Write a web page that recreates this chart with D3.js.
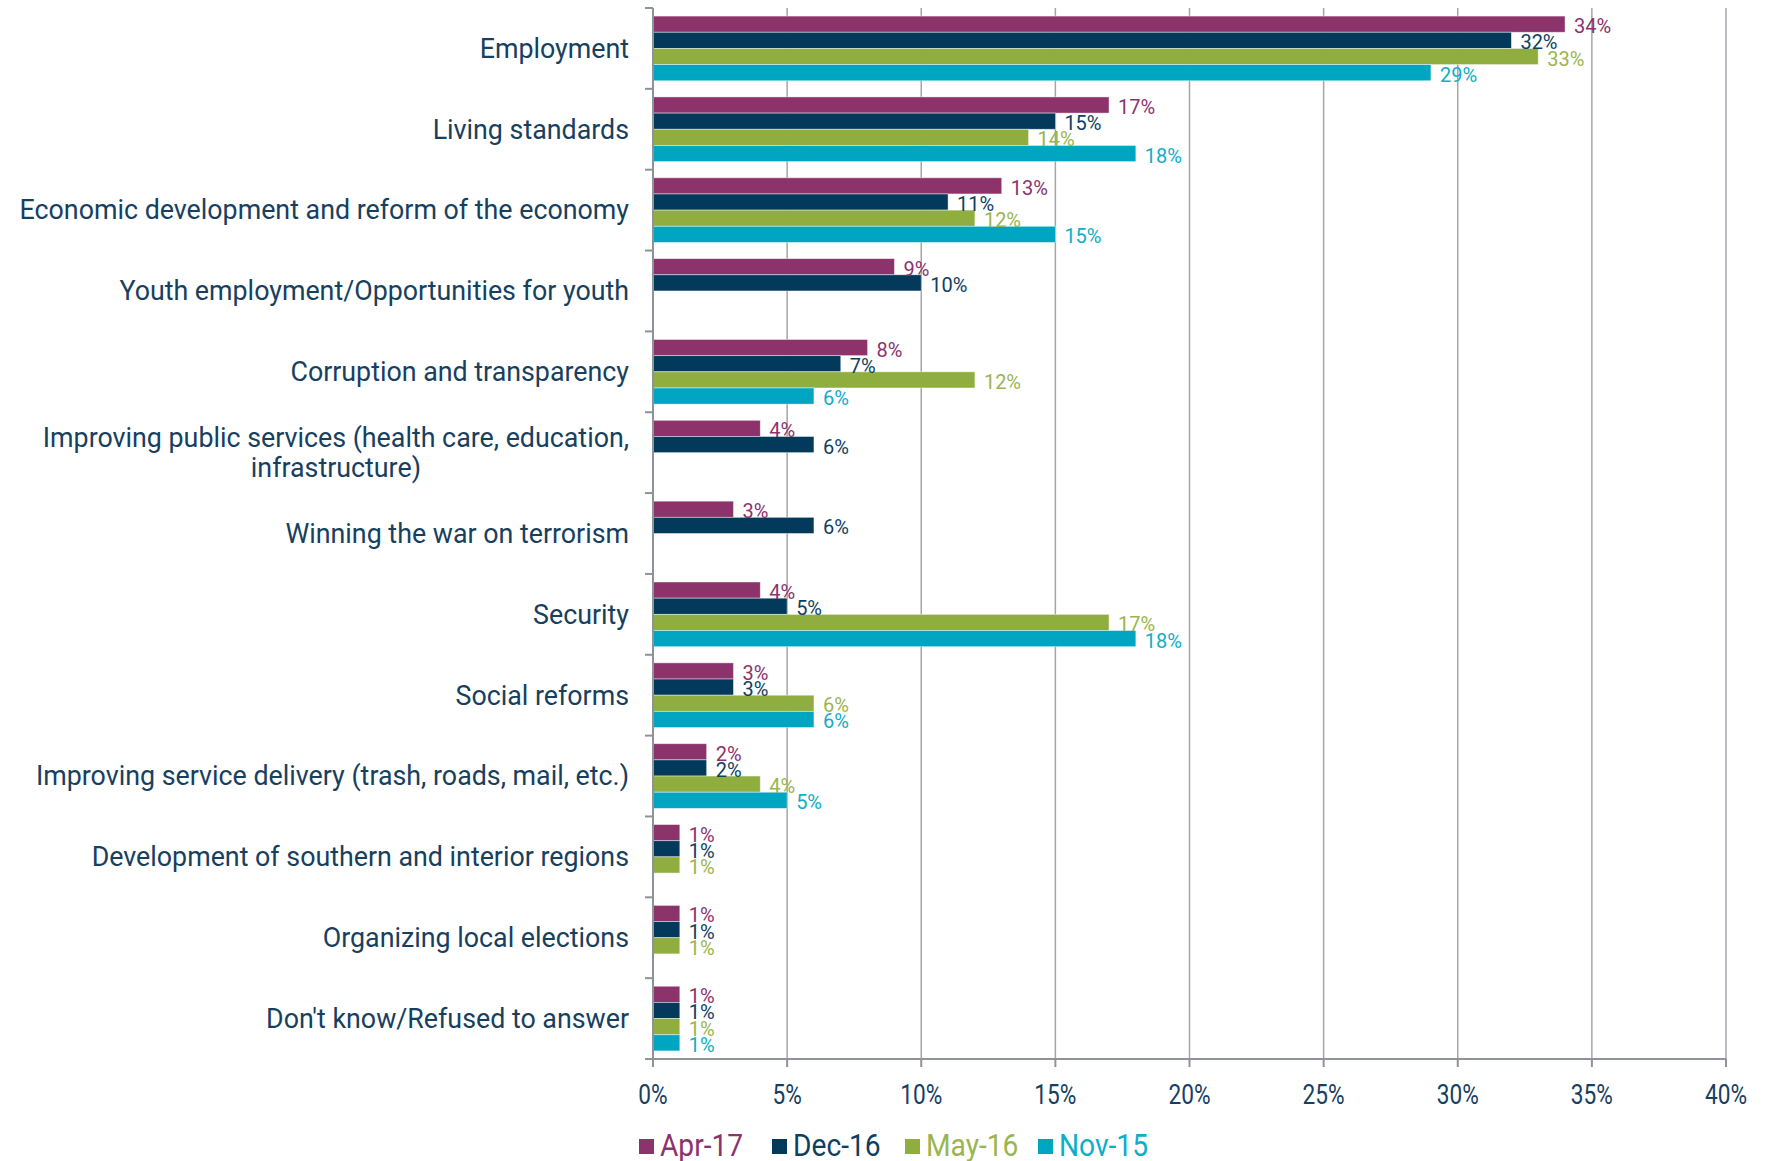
<!DOCTYPE html>
<html>
<head>
<meta charset="utf-8">
<script src="https://cdn.jsdelivr.net/npm/d3@7"></script>
<style>
  html, body { margin: 0; padding: 0; background: #fff; }
  svg { display: block; }
</style>
</head>
<body>
<svg id="chart" width="1768" height="1161"></svg>
<script>
// ---- data ----
const categories = [
  "Employment",
  "Living standards",
  "Economic development and reform of the economy",
  "Youth employment/Opportunities for youth",
  "Corruption and transparency",
  "Improving public services (health care, education,|infrastructure)",
  "Winning the war on terrorism",
  "Security",
  "Social reforms",
  "Improving service delivery (trash, roads, mail, etc.)",
  "Development of southern and interior regions",
  "Organizing local elections",
  "Don't know/Refused to answer"
];
const seriesNames = ["Apr-17", "Dec-16", "May-16", "Nov-15"];
const apr17 = [34, 17, 13, 9, 8, 4, 3, 4, 3, 2, 1, 1, 1];
const dec16 = [32, 15, 11, 10, 7, 6, 6, 5, 3, 2, 1, 1, 1];
const may16 = [33, 14, 12, null, 12, null, null, 17, 6, 4, 1, 1, 1];
const nov15 = [29, 18, 15, null, 6, null, null, 18, 6, 5, null, null, 1];
const xTicks = [0, 5, 10, 15, 20, 25, 30, 35, 40];

(function () {
const seriesValues = [apr17, dec16, may16, nov15];
const barColors = ["#8C336C", "#033A5B", "#90AE3F", "#00A6C1"];
const labelColors = ["#8C336C", "#0E3F5F", "#9BB54E", "#0EAEC8"];
const textColor = "#17405F";
const narrow = 0.84;
const legendNarrow = 0.88;

const svg = d3.select("#chart");
const pLeft = 653, pRight = 1726, pTop = 8, pBottom = 1059;

const x = d3.scaleLinear().domain([0, 40]).range([pLeft, pRight]);
const y = d3.scaleBand().domain(categories).range([pTop, pBottom]).padding(0);
const ySub = d3.scaleBand().domain(seriesNames).range([0, y.bandwidth()])
  .paddingInner(0).paddingOuter(0.5);

// gridlines
svg.append("g").selectAll("line").data(xTicks.slice(1)).join("line")
  .attr("x1", d => x(d)).attr("x2", d => x(d))
  .attr("y1", pTop).attr("y2", pBottom)
  .attr("stroke", "#A2A6AB").attr("stroke-width", 1.5);

// bars
const rows = [];
categories.forEach((c, i) => {
  seriesNames.forEach((s, j) => {
    const v = seriesValues[j][i];
    if (v !== null && v !== undefined) rows.push({ c, s, j, v });
  });
});

svg.append("g").selectAll("rect").data(rows).join("rect")
  .attr("x", x(0))
  .attr("y", d => y(d.c) + ySub(d.s))
  .attr("width", d => x(d.v) - x(0))
  .attr("height", ySub.bandwidth())
  .attr("fill", d => barColors[d.j])
  .attr("stroke", "rgba(255,255,255,0.55)")
  .attr("stroke-width", 0.8);

// value labels
svg.append("g").selectAll("text").data(rows).join("text")
  .attr("x", d => x(d.v) + 9)
  .attr("y", d => y(d.c) + ySub(d.s) + ySub.bandwidth() / 2 + 2)
  .attr("dy", "0.35em")
  .attr("font-family", "Roboto, 'Open Sans', sans-serif")
  .attr("font-size", 20)
  .attr("fill", d => labelColors[d.j])
  .text(d => d.v + "%");

// axes lines
const axisColor = "#8E9399";
svg.append("line")
  .attr("x1", pLeft).attr("x2", pLeft).attr("y1", pTop).attr("y2", pBottom + 8)
  .attr("stroke", axisColor).attr("stroke-width", 2);
svg.append("line")
  .attr("x1", pLeft - 8).attr("x2", pRight).attr("y1", pBottom).attr("y2", pBottom)
  .attr("stroke", axisColor).attr("stroke-width", 2);

// y ticks at category boundaries
const yBounds = categories.map(c => y(c)).concat([pBottom]);
svg.append("g").selectAll("line").data(yBounds).join("line")
  .attr("x1", pLeft - 8).attr("x2", pLeft)
  .attr("y1", d => d).attr("y2", d => d)
  .attr("stroke", axisColor).attr("stroke-width", 2);

// x ticks
svg.append("g").selectAll("line").data(xTicks).join("line")
  .attr("x1", d => x(d)).attr("x2", d => x(d))
  .attr("y1", pBottom).attr("y2", pBottom + 8)
  .attr("stroke", axisColor).attr("stroke-width", 2);

// x tick labels (narrow face)
svg.append("g").selectAll("text").data(xTicks).join("text")
  .attr("transform", d => `translate(${x(d)},1104) scale(${narrow},1)`)
  .attr("text-anchor", "middle")
  .attr("font-family", "Roboto, sans-serif")
  .attr("font-size", 27)
  .attr("fill", textColor)
  .text(d => d + "%");

// category labels
const catG = svg.append("g");
categories.forEach(c => {
  const lines = c.split("|");
  const cy = y(c) + y.bandwidth() / 2;
  const t = catG.append("text")
    .attr("font-family", "Roboto, 'Open Sans', sans-serif")
    .attr("font-size", 26.8)
    .attr("fill", textColor);
  if (lines.length === 1) {
    t.attr("x", 629).attr("y", cy).attr("dy", "0.35em")
      .attr("text-anchor", "end").text(c);
  } else {
    lines.forEach((ln, k) => {
      t.append("tspan").attr("y", cy + (k - (lines.length - 1) / 2) * 30)
        .attr("dy", "0.35em").text(ln);
    });
    const tsp = t.selectAll("tspan").nodes();
    const w = d3.max(tsp, n => n.getComputedTextLength());
    const cx = 629 - w / 2;
    t.attr("text-anchor", "middle");
    t.selectAll("tspan").attr("x", cx);
  }
});

// legend (equal-width entries)
const legendX = d3.scaleBand().domain(seriesNames).range([639, 639 + 4 * 133]).padding(0);
const lg = svg.append("g");
seriesNames.forEach((s, j) => {
  const lx = legendX(s);
  lg.append("rect").attr("x", lx).attr("y", 1139).attr("width", 15).attr("height", 15)
    .attr("fill", barColors[j]);
  lg.append("text")
    .attr("transform", `translate(${lx + 21},1156) scale(${legendNarrow},1)`)
    .attr("font-family", "Roboto, sans-serif")
    .attr("font-size", 32)
    .attr("fill", labelColors[j])
    .text(s);
});
})();
</script>
</body>
</html>
